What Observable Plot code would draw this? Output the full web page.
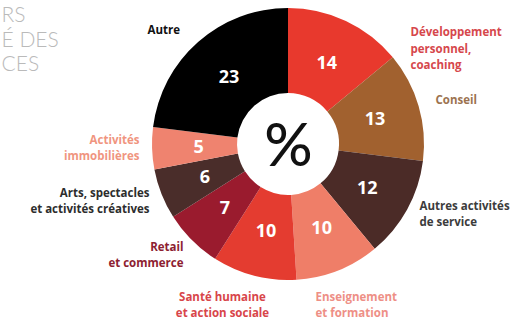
<!DOCTYPE html>
<html>
<head>
<meta charset="utf-8">
<script src="https://cdn.jsdelivr.net/npm/d3@7"></script>
<script src="https://cdn.jsdelivr.net/npm/@observablehq/plot@0.6"></script>
<style>
  html, body { margin: 0; padding: 0; background: #fff; }
  #chart { width: 523px; height: 319px; overflow: hidden; }
</style>
</head>
<body>
<div id="chart"></div>
<script>
// ---- data ----
const categories = [
  "Développement\npersonnel,\ncoaching",
  "Conseil",
  "Autres activités\nde service",
  "Enseignement\net formation",
  "Santé humaine\net action sociale",
  "Retail\net commerce",
  "Arts, spectacles\net activités créatives",
  "Activités\nimmobilières",
  "Autre"
];
const values = [14, 13, 12, 10, 10, 7, 6, 5, 23];
const titleLines = ["RS", "É DES", "CES"];
const centerSymbol = "%";

// ---- styles / layout (kept apart from data) ----
const sliceColors = ["#e8392d", "#a1612f", "#4b2b27", "#ef7e68", "#e43c30", "#9a1b2e", "#4a2d2a", "#ef836f", "#000000"];
const labelColors = ["#d6474c", "#9c7350", "#3c3c3c", "#ee8f86", "#d8454a", "#8d2131", "#2d2d2d", "#f0957f", "#111111"];
const W = 523, H = 319;
const cx = 288, cy = 144, R = 136, R0 = 51, RL = 90;
// external label placement: [x, y, anchor]
const labelPlace = [
  [410, 47, "start"],
  [435, 98, "start"],
  [419, 212, "start"],
  [315, 303, "start"],
  [222, 303, "middle"],
  [183, 253, "end"],
  [149, 199, "end"],
  [139, 146, "end"],
  [147, 28, "start"]
];
const titlePlace = [[1, 15], [1, 40], [1, 64]];

// ---- derived ----
const pie = d3.pie().sort(null).value(d => d.value).startAngle(0).endAngle(2 * Math.PI);
const rows = categories.map((c, i) => ({category: c, value: values[i], i}));
const arcs = pie(rows);
const numLabels = arcs.map(a => {
  const m = (a.startAngle + a.endAngle) / 2;
  return {text: String(a.data.value), x: cx + RL * Math.sin(m), y: cy - RL * Math.cos(m), i: a.data.i};
});
const catLabels = rows.map((r, i) => ({text: r.category, x: labelPlace[i][0], y: labelPlace[i][1], anchor: labelPlace[i][2], i}));
const titles = titleLines.map((t, i) => ({text: t, x: titlePlace[i][0], y: titlePlace[i][1]}));

function slicesMark(index, scales) {
  const g = d3.create("svg:g");
  const px = scales.x(cx), py = scales.y(cy);
  const ro = Math.abs(scales.x(cx + R) - scales.x(cx));
  const ri = Math.abs(scales.x(cx + R0) - scales.x(cx));
  const arc = d3.arc().innerRadius(ri).outerRadius(ro);
  g.attr("transform", `translate(${px},${py})`);
  g.selectAll("path").data(arcs).join("path")
    .attr("d", arc)
    .attr("fill", d => sliceColors[d.data.i]);
  return g.node();
}

const chart = Plot.plot({
  width: W,
  height: H,
  margin: 0,
  x: {domain: [0, W], range: [0, W], axis: null},
  y: {domain: [0, H], range: [0, H], axis: null},
  style: {background: "#fff", fontFamily: "'Open Sans', sans-serif"},
  marks: [
    slicesMark,
    Plot.text(numLabels, {x: "x", y: "y", text: "text", fill: "#fff", fontSize: 18, fontWeight: 700}),
    Plot.text([{x: cx, y: cy + 2, text: centerSymbol}], {x: "x", y: "y", text: "text", fill: "#111", fontSize: 60, fontWeight: 500, fontFamily: "Lato, sans-serif"}),
    ...["start", "middle", "end"].map(a =>
      Plot.text(catLabels.filter(d => d.anchor === a), {
        x: "x", y: "y", text: "text", textAnchor: a, lineAnchor: "middle", lineHeight: 1.42,
        fill: d => labelColors[d.i], fontSize: 11.5, fontWeight: 700
      })),
    Plot.text(titles, {x: "x", y: "y", text: "text", textAnchor: "start", fill: "#bababa", fontSize: 21, fontWeight: 300, fontFamily: "Lato, sans-serif"})
  ]
});
document.getElementById("chart").appendChild(chart);
</script>
</body>
</html>
